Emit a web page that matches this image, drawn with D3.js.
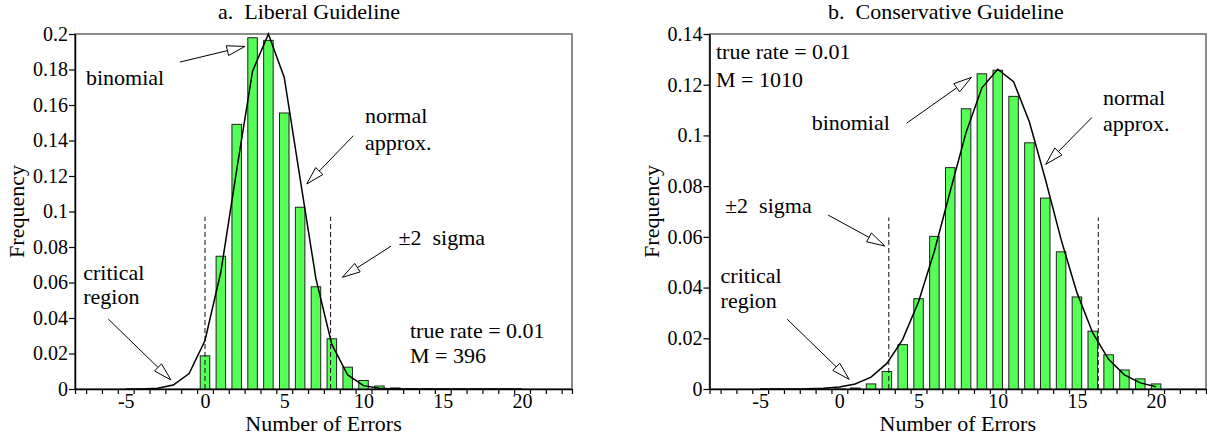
<!DOCTYPE html>
<html><head><meta charset="utf-8">
<script src="https://cdn.jsdelivr.net/npm/d3@7"></script>
<style>
html,body{margin:0;padding:0;background:#fff;}
</style></head><body>
<svg id="chart" width="1207" height="444" font-family="'Liberation Serif', 'Times New Roman', serif"></svg>
<script>
// ---------- data ----------
const barErrors = [0,1,2,3,4,5,6,7,8,9,10,11,12,13,14,15,16,17,18,19,20];
const curveErrors = [-5,-4,-3,-2,-1,0,1,2,3,4,5,6,7,8,9,10,11,12,13,14,15,16,17,18,19,20];

const liberalBinomial = [0.0187,0.0748,0.1491,0.1979,0.1964,0.1555,0.1024,0.0576,0.0283,0.0123,0.0048,0.0017,0.0006,0.0002,0.00005,0,0,0,0,0,0];
const liberalNormal = [0.00001,0.00006,0.0004,0.0022,0.0087,0.0273,0.0659,0.1234,0.1791,0.2014,0.1755,0.1185,0.0620,0.0251,0.0079,0.0019,0.0004,0.00005,0.00001,0,0,0,0,0,0,0];

const conservativeBinomial = [0.00004,0.0004,0.0020,0.0069,0.0175,0.0356,0.0602,0.0873,0.1105,0.1243,0.1257,0.1154,0.0971,0.0753,0.0541,0.0363,0.0228,0.0135,0.0075,0.0040,0.0020];
const conservativeNormal = [0.000001,0.000006,0.00002,0.00008,0.0003,0.0008,0.0020,0.0047,0.0101,0.0196,0.0344,0.0544,0.0780,0.1012,0.1188,0.1261,0.1212,0.1053,0.0829,0.0590,0.0380,0.0221,0.0117,0.0056,0.0024,0.0009];

const liberalSigmaBounds = [0, 7.92];
const liberalSigmaHeight = 0.097;
const conservativeSigmaBounds = [3.12, 16.35];
const conservativeSigmaHeight = 0.0676;

const xTickLabels = ["-5","0","5","10","15","20"];
const xTickValues = [-5,0,5,10,15,20];
const xMinorTicks = [-7.5,-6.5,-5.5,-4.5,-3.5,-2.5,-1.5,-0.5,0.5,1.5,2.5,3.5,4.5,5.5,6.5,7.5,8.5,9.5,10.5,11.5,12.5,13.5,14.5,15.5,16.5,17.5,18.5,19.5,20.5,21.5,22.5];
const xDomain = [-8.2, 23.15];

const liberalYTicks = [0,0.02,0.04,0.06,0.08,0.1,0.12,0.14,0.16,0.18,0.2];
const liberalYLabels = ["0","0.02","0.04","0.06","0.08","0.1","0.12","0.14","0.16","0.18","0.2"];
const conservativeYTicks = [0,0.02,0.04,0.06,0.08,0.1,0.12,0.14];
const conservativeYLabels = ["0","0.02","0.04","0.06","0.08","0.1","0.12","0.14"];

const panelTitles = ["a.  Liberal Guideline", "b.  Conservative Guideline"];
const xAxisTitle = "Number of Errors";
const yAxisTitle = "Frequency";

// annotation texts (positions given in data units)
const liberalNotes = [
  {text:"binomial", at:[-7.51,0.1713]},
  {text:"normal", at:[10.09,0.1499]},
  {text:"approx.", at:[10.09,0.1346]},
  {text:"\u00b12  sigma", at:[12.2,0.0811]},
  {text:"true rate = 0.01", at:[12.93,0.0286]},
  {text:"M = 396", at:[12.93,0.0148]},
  {text:"critical", at:[-7.68,0.0614]},
  {text:"region", at:[-7.68,0.0481]}
];
const liberalArrows = [
  {from:[-1.58,0.1842], to:[2.52,0.193]},
  {from:[9.36,0.1427], to:[6.42,0.1155]},
  {from:[11.74,0.0805], to:[8.66,0.0629]},
  {from:[-6.1,0.0394], to:[-2.15,0.0051]}
];
const conservativeNotes = [
  {text:"true rate = 0.01", at:[-7.79,0.130]},
  {text:"M = 1010", at:[-7.79,0.119]},
  {text:"binomial", at:[-1.75,0.1021]},
  {text:"normal", at:[16.64,0.112]},
  {text:"approx.", at:[16.64,0.1018]},
  {text:"\u00b12  sigma", at:[-7.22,0.0694]},
  {text:"critical", at:[-7.5,0.0417]},
  {text:"region", at:[-7.5,0.0318]}
];
const conservativeArrows = [
  {from:[4.24,0.1048], to:[8.34,0.1229]},
  {from:[15.95,0.1071], to:[13.03,0.0886]},
  {from:[-0.71,0.0686], to:[2.87,0.0564]},
  {from:[-3.29,0.0275], to:[0.62,0.0038]}
];

// ---------- layout ----------
const FONT = "'Liberation Serif', 'Times New Roman', serif";
const panels = [
  {left:75, right:572, top:34, bottom:389, titleX:218, yMax:0.2,
   bars:liberalBinomial, curve:liberalNormal, sigma:liberalSigmaBounds, sigmaH:liberalSigmaHeight,
   yTicks:liberalYTicks, yLabels:liberalYLabels, notes:liberalNotes, arrows:liberalArrows, title:panelTitles[0]},
  {left:709.5, right:1206, top:34, bottom:389, titleX:828, yMax:0.14,
   bars:conservativeBinomial, curve:conservativeNormal, sigma:conservativeSigmaBounds, sigmaH:conservativeSigmaHeight,
   yTicks:conservativeYTicks, yLabels:conservativeYLabels, notes:conservativeNotes, arrows:conservativeArrows, title:panelTitles[1]}
];

const svg = d3.select("#chart");

function drawArrow(g, x1, y1, x2, y2) {
  const L = 18, W = 5;
  const dx = x2 - x1, dy = y2 - y1, len = Math.hypot(dx, dy);
  const ux = dx/len, uy = dy/len, nx = -uy, ny = ux;
  const bx = x2 - ux*L, by = y2 - uy*L;
  g.append("line").attr("x1", x1).attr("y1", y1).attr("x2", bx).attr("y2", by)
    .attr("stroke", "#000").attr("stroke-width", 1);
  g.append("path")
    .attr("d", `M${x2},${y2}L${bx+nx*W},${by+ny*W}L${bx-nx*W},${by-ny*W}Z`)
    .attr("fill", "#fff").attr("stroke", "#000").attr("stroke-width", 1);
}

function txt(g, size) {
  return g.append("text").attr("font-family", FONT).attr("font-size", size).attr("fill", "#000")
    .attr("xml:space", "preserve").style("white-space", "pre");
}

panels.forEach(p => {
  const x = d3.scaleLinear().domain(xDomain).range([p.left, p.right]);
  const y = d3.scaleLinear().domain([0, p.yMax]).range([p.bottom, p.top]);
  const g = svg.append("g");

  // frame
  g.append("rect").attr("x", p.left).attr("y", p.top)
    .attr("width", p.right - p.left).attr("height", p.bottom - p.top)
    .attr("fill", "none").attr("stroke", "#666").attr("stroke-width", 1.5);

  // bars
  const bw = x(0.6) - x(0);
  g.selectAll("rect.bar").data(p.bars).join("rect").attr("class", "bar")
    .attr("x", (d, i) => x(barErrors[i]) - bw/2)
    .attr("y", d => y(d))
    .attr("width", bw)
    .attr("height", d => y(0) - y(d))
    .attr("fill", "#55ff55").attr("stroke", "#222").attr("stroke-width", 1);

  // sigma dashed lines
  g.selectAll("line.sig").data(p.sigma).join("line").attr("class", "sig")
    .attr("x1", d => x(d)).attr("x2", d => x(d))
    .attr("y1", y(0)).attr("y2", y(p.sigmaH))
    .attr("stroke", "#222").attr("stroke-width", 1.1).attr("stroke-dasharray", "5,3");

  // normal curve
  const line = d3.line().x((d, i) => x(curveErrors[i])).y(d => Math.max(y(d), p.top));
  g.append("path").datum(p.curve).attr("d", line)
    .attr("fill", "none").attr("stroke", "#000").attr("stroke-width", 1.5);

  // axes
  const yAxis = d3.axisLeft(y).tickValues(p.yTicks).tickFormat((d, i) => p.yLabels[i])
    .tickSize(6).tickPadding(1).tickSizeOuter(0);
  const ya = g.append("g").attr("transform", `translate(${p.left},0)`).call(yAxis)
    .attr("font-family", FONT).attr("font-size", 20);
  ya.select(".domain").attr("stroke", "#000").attr("stroke-width", 1.5);
  ya.selectAll(".tick line").attr("stroke", "#000").attr("stroke-width", 1.2);
  ya.selectAll("text").attr("font-family", FONT).attr("font-size", 20);

  const xMinor = d3.axisBottom(x).tickValues(xMinorTicks.concat(xDomain)).tickFormat("").tickSize(5).tickSizeOuter(0);
  const xa = g.append("g").attr("transform", `translate(0,${p.bottom})`).call(xMinor);
  xa.select(".domain").attr("stroke", "#000").attr("stroke-width", 1.5);
  xa.selectAll(".tick line").attr("stroke", "#000").attr("stroke-width", 1.2);

  const xLab = d3.axisBottom(x).tickValues(xTickValues).tickFormat((d, i) => xTickLabels[i])
    .tickSize(0).tickPadding(5).tickSizeOuter(0);
  const xl = g.append("g").attr("transform", `translate(0,${p.bottom})`).call(xLab)
    .attr("font-family", FONT).attr("font-size", 20);
  xl.select(".domain").remove();
  xl.selectAll("text").attr("font-family", FONT).attr("font-size", 20);

  // titles
  txt(g, 22).attr("x", p.titleX).attr("y", 18.5).text(p.title);
  txt(g, 22).attr("x", (p.left + p.right)/2).attr("y", 431).attr("text-anchor", "middle").text(xAxisTitle);
  txt(g, 22).attr("transform", `translate(${p.left - 51},${(p.top + p.bottom)/2}) rotate(-90)`)
    .attr("text-anchor", "middle").text(yAxisTitle);

  // annotations
  p.notes.forEach(n => {
    txt(g, 22).attr("x", x(n.at[0])).attr("y", y(n.at[1])).text(n.text);
  });
  p.arrows.forEach(a => drawArrow(g, x(a.from[0]), y(a.from[1]), x(a.to[0]), y(a.to[1])));
});
</script>
</body></html>
